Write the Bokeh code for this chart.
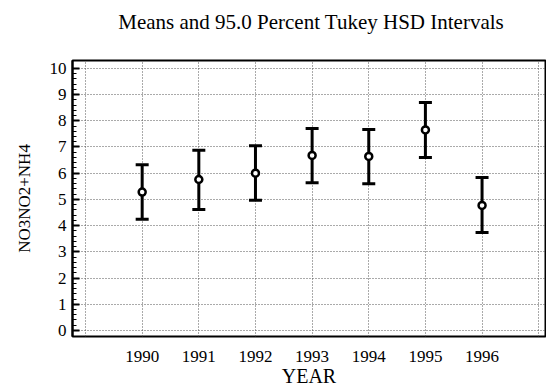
from bokeh.plotting import figure
from bokeh.layouts import column
from bokeh.models import FixedTicker, ColumnDataSource, Range1d, Div
from bokeh.embed import file_html
from bokeh.resources import INLINE

# Group means and 95% Tukey HSD interval limits by year
years = [1990, 1991, 1992, 1993, 1994, 1995, 1996]
means = [5.28, 5.76, 6.00, 6.68, 6.64, 7.65, 4.77]
upper = [6.32, 6.88, 7.05, 7.71, 7.67, 8.70, 5.84]
lower = [4.24, 4.62, 4.97, 5.64, 5.60, 6.60, 3.74]

grid_years = [1989, 1990, 1991, 1992, 1993, 1994, 1995, 1996, 1997]
y_ticks = list(range(0, 11))

src = ColumnDataSource(dict(year=years, mean=means, upper=upper, lower=lower))

FONT = "Liberation Serif"

# Heading, centred over the plotting area (no widget margin)
heading = Div(text="Means and 95.0 Percent Tukey HSD Intervals", width=546, height=58,
              margin=(0, 0, 0, 0),
              styles={"font-family": FONT, "font-size": "21px", "color": "black",
                      "text-align": "center", "text-indent": "76px",
                      "line-height": "44px", "white-space": "nowrap"})

p = figure(width=546, height=333, output_backend="svg", toolbar_location=None,
           x_range=Range1d(1988.77, 1997.12), y_range=Range1d(-0.23, 10.3),
           min_border_left=72, min_border_right=1, min_border_top=2,
           min_border_bottom=55)
p.title = None

p.outline_line_color = "black"
p.outline_line_width = 2
p.background_fill_color = "white"
p.border_fill_color = "white"

# Dotted grid
for g in (p.xgrid, p.ygrid):
    g.grid_line_color = "#555555"
    g.grid_line_dash = "1 2"
    g.grid_line_width = 1
p.xgrid.ticker = FixedTicker(ticks=grid_years)
p.ygrid.ticker = FixedTicker(ticks=y_ticks)

# X axis: year labels, no tick marks
p.xaxis.ticker = FixedTicker(ticks=grid_years)
p.xaxis.major_label_overrides = {1989: "", 1997: ""}
p.xaxis.major_tick_in = 0
p.xaxis.major_tick_out = 0
p.xaxis.minor_tick_line_color = None
p.xaxis.axis_line_color = None
p.xaxis.axis_label = "YEAR"
p.xaxis.major_label_standoff = 14
p.xaxis.axis_label_standoff = 0

# Y axis: inward major and minor ticks
p.yaxis.ticker = FixedTicker(ticks=y_ticks,
                             minor_ticks=[i / 5 for i in range(0, 51)])
p.yaxis.major_tick_in = 7
p.yaxis.major_tick_out = 0
p.yaxis.minor_tick_in = 4
p.yaxis.minor_tick_out = 0
p.yaxis.major_tick_line_width = 2
p.yaxis.axis_line_width = 2
p.yaxis.axis_label = "NO3NO2+NH4"
p.yaxis.major_label_standoff = 6
p.yaxis.axis_label_standoff = 13

for ax in (p.xaxis, p.yaxis):
    ax.major_label_text_font = FONT
    ax.major_label_text_font_size = "17px"
    ax.major_label_text_color = "black"
    ax.axis_label_text_font = FONT
    ax.axis_label_text_font_style = "normal"
    ax.axis_label_text_color = "black"
p.xaxis.axis_label_text_font_size = "20px"
p.yaxis.axis_label_text_font_size = "17px"

# Interval bars, caps and mean markers
p.segment(x0="year", y0="lower", x1="year", y1="upper", source=src,
          line_color="black", line_width=3)
p.scatter(x="year", y="upper", source=src, marker="dash", size=13,
          line_color="black", line_width=3)
p.scatter(x="year", y="lower", source=src, marker="dash", size=13,
          line_color="black", line_width=3)
p.scatter(x="year", y="mean", source=src, marker="circle", size=7,
          fill_color="white", line_color="black", line_width=2.5)

layout = column(heading, p, spacing=0)
open("out.html", "w").write(file_html(layout, INLINE))
